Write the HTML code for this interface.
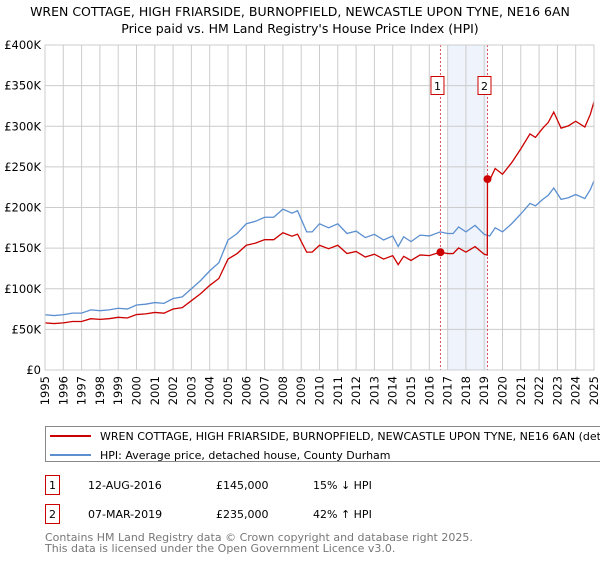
<!DOCTYPE html>
<html><head><meta charset="utf-8"><style>
body{margin:0;background:#fff;font-family:"DejaVu Sans","Liberation Sans",sans-serif;}
svg text{font-family:"DejaVu Sans","Liberation Sans",sans-serif;}
</style></head><body>
<svg id="c" width="600" height="560" xmlns="http://www.w3.org/2000/svg">
<text x="300" y="16" font-size="12.5" text-anchor="middle">WREN COTTAGE, HIGH FRIARSIDE, BURNOPFIELD, NEWCASTLE UPON TYNE, NE16 6AN</text>
<text x="300" y="33" font-size="12.5" text-anchor="middle">Price paid vs. HM Land Registry's House Price Index (HPI)</text>
<g id="plot"></g>
<g>
<rect x="45.5" y="426.5" width="570" height="35" fill="#fff" stroke="#888"/>
<line x1="50" y1="436" x2="91" y2="436" stroke="#cc0000" stroke-width="2"/>
<text x="100" y="440" font-size="11">WREN COTTAGE, HIGH FRIARSIDE, BURNOPFIELD, NEWCASTLE UPON TYNE, NE16 6AN (detached house)</text>
<line x1="50" y1="455" x2="91" y2="455" stroke="#5b8fd0" stroke-width="2"/>
<text x="100" y="459" font-size="11">HPI: Average price, detached house, County Durham</text>
</g>
<g font-size="11">
<rect x="45.5" y="475.5" width="14" height="19" fill="#fff" stroke="#cc0000"/>
<text x="52.5" y="489" text-anchor="middle">1</text>
<text x="88" y="489">12-AUG-2016</text><text x="216" y="489">£145,000</text><text x="313" y="489">15% ↓ HPI</text>
<rect x="45.5" y="504.5" width="14" height="19" fill="#fff" stroke="#cc0000"/>
<text x="52.5" y="518" text-anchor="middle">2</text>
<text x="88" y="518">07-MAR-2019</text><text x="216" y="518">£235,000</text><text x="313" y="518">42% ↑ HPI</text>
</g>
<text x="45" y="541" font-size="11" fill="#777">Contains HM Land Registry data © Crown copyright and database right 2025.</text>
<text x="45" y="552" font-size="11" fill="#777">This data is licensed under the Open Government Licence v3.0.</text>
</svg>
<script>
const hpiYears=[1995,1995.5,1996,1996.5,1997,1997.5,1998,1998.5,1999,1999.5,2000,2000.5,2001,2001.5,2002,2002.5,2003,2003.5,2004,2004.5,2005,2005.5,2006,2006.5,2007,2007.5,2008,2008.5,2008.8,2009.3,2009.6,2010,2010.5,2011,2011.5,2012,2012.5,2013,2013.5,2014,2014.3,2014.6,2015,2015.5,2016,2016.6,2017,2017.3,2017.6,2018,2018.5,2019,2019.3,2019.6,2020,2020.5,2021,2021.5,2021.8,2022.2,2022.5,2022.8,2023.2,2023.6,2024,2024.5,2024.8,2025];
const hpiValues=[68,67,68,70,70,74,73,74,76,75,80,81,83,82,88,90,100,110,122,132,160,168,180,183,188,188,198,193,196,170,170,180,175,180,168,171,163,167,160,165,152,164,158,166,165,170,168,168,176,170,178,167,165,175,170,180,192,205,202,210,215,224,210,212,216,211,222,233];
const saleYears=[2016.61,2019.18];
const salePrices=[145,235];
const saleLabels=["1","2"];
const yTicks=[0,50,100,150,200,250,300,350,400];
const yTickLabels=["£0","£50K","£100K","£150K","£200K","£250K","£300K","£350K","£400K"];
const xYears=[1995,1996,1997,1998,1999,2000,2001,2002,2003,2004,2005,2006,2007,2008,2009,2010,2011,2012,2013,2014,2015,2016,2017,2018,2019,2020,2021,2022,2023,2024,2025];

const L=45,R=594,T=45,B=370;
const X=y=>L+(y-1995)/30*(R-L);
const Y=v=>B-v/400*(B-T);
const NS="http://www.w3.org/2000/svg";
const g=document.getElementById('plot');
function mk(tag,at){const e=document.createElementNS(NS,tag);for(const k in at)e.setAttribute(k,at[k]);g.appendChild(e);return e;}
function hpiAt(t){for(let i=1;i<hpiYears.length;i++){if(t<=hpiYears[i]){const f=(t-hpiYears[i-1])/(hpiYears[i]-hpiYears[i-1]);return hpiValues[i-1]+f*(hpiValues[i]-hpiValues[i-1]);}}return hpiValues[hpiValues.length-1];}
let band=mk('rect',{x:X(2017),y:T,width:X(saleYears[1])-X(2017),height:B-T,fill:'#eef3fc'});


xYears.forEach(yr=>{let l=mk('line',{x1:X(yr),x2:X(yr),y1:T,y2:B,stroke:'#ccc'});


let t=mk('text',{x:0,y:0,'font-size':11.5,'text-anchor':'end',transform:`translate(${X(yr)+4},${B+6}) rotate(-90)`});t.textContent=yr;

});
yTicks.forEach((v,i)=>{let l=mk('line',{x1:L,x2:R,y1:Y(v),y2:Y(v),stroke:'#ccc'});


let t=mk('text',{x:L-4,y:Y(v)+4,'font-size':11.5,'text-anchor':'end'});t.textContent=yTickLabels[i];

});
saleYears.forEach((s,i)=>{let l=mk('line',{x1:X(s),x2:X(s),y1:T,y2:B,stroke:'#e05060','stroke-dasharray':'2,2'});


let r=mk('rect',{x:X(s)-9.5,y:76.5,width:13,height:18,fill:'#fff',stroke:'#cc0000'});


let t=mk('text',{x:X(s)-3,y:90,'font-size':11,'text-anchor':'middle'});t.textContent=saleLabels[i];

});
let hp=hpiYears.map((y,i)=>X(y)+','+Y(hpiValues[i])).join(' ');
let hl=mk('polyline',{points:hp,fill:'none',stroke:'#5b8fd0','stroke-width':1.3});


let pts=[];
const f0=salePrices[0]/hpiAt(saleYears[0]), f1=salePrices[1]/hpiAt(saleYears[1]);
hpiYears.forEach((y,i)=>{if(y<saleYears[1])pts.push([y,hpiValues[i]*f0]);});
pts.push([saleYears[1]-0.01,hpiAt(saleYears[1])*f0]);
pts.push([saleYears[1],salePrices[1]]);
hpiYears.forEach((y,i)=>{if(y>saleYears[1])pts.push([y,hpiValues[i]*f1]);});
let pl=mk('polyline',{points:pts.map(p=>X(p[0])+','+Y(p[1])).join(' '),fill:'none',stroke:'#cc0000','stroke-width':1.3});


saleYears.forEach((s,i)=>{let c=mk('circle',{cx:X(s),cy:Y(salePrices[i]),r:4,fill:'#cc0000'});

});
let ax=mk('rect',{x:L,y:T,width:R-L,height:B-T,fill:'none',stroke:'#ccc'});


</script>
</body></html>
